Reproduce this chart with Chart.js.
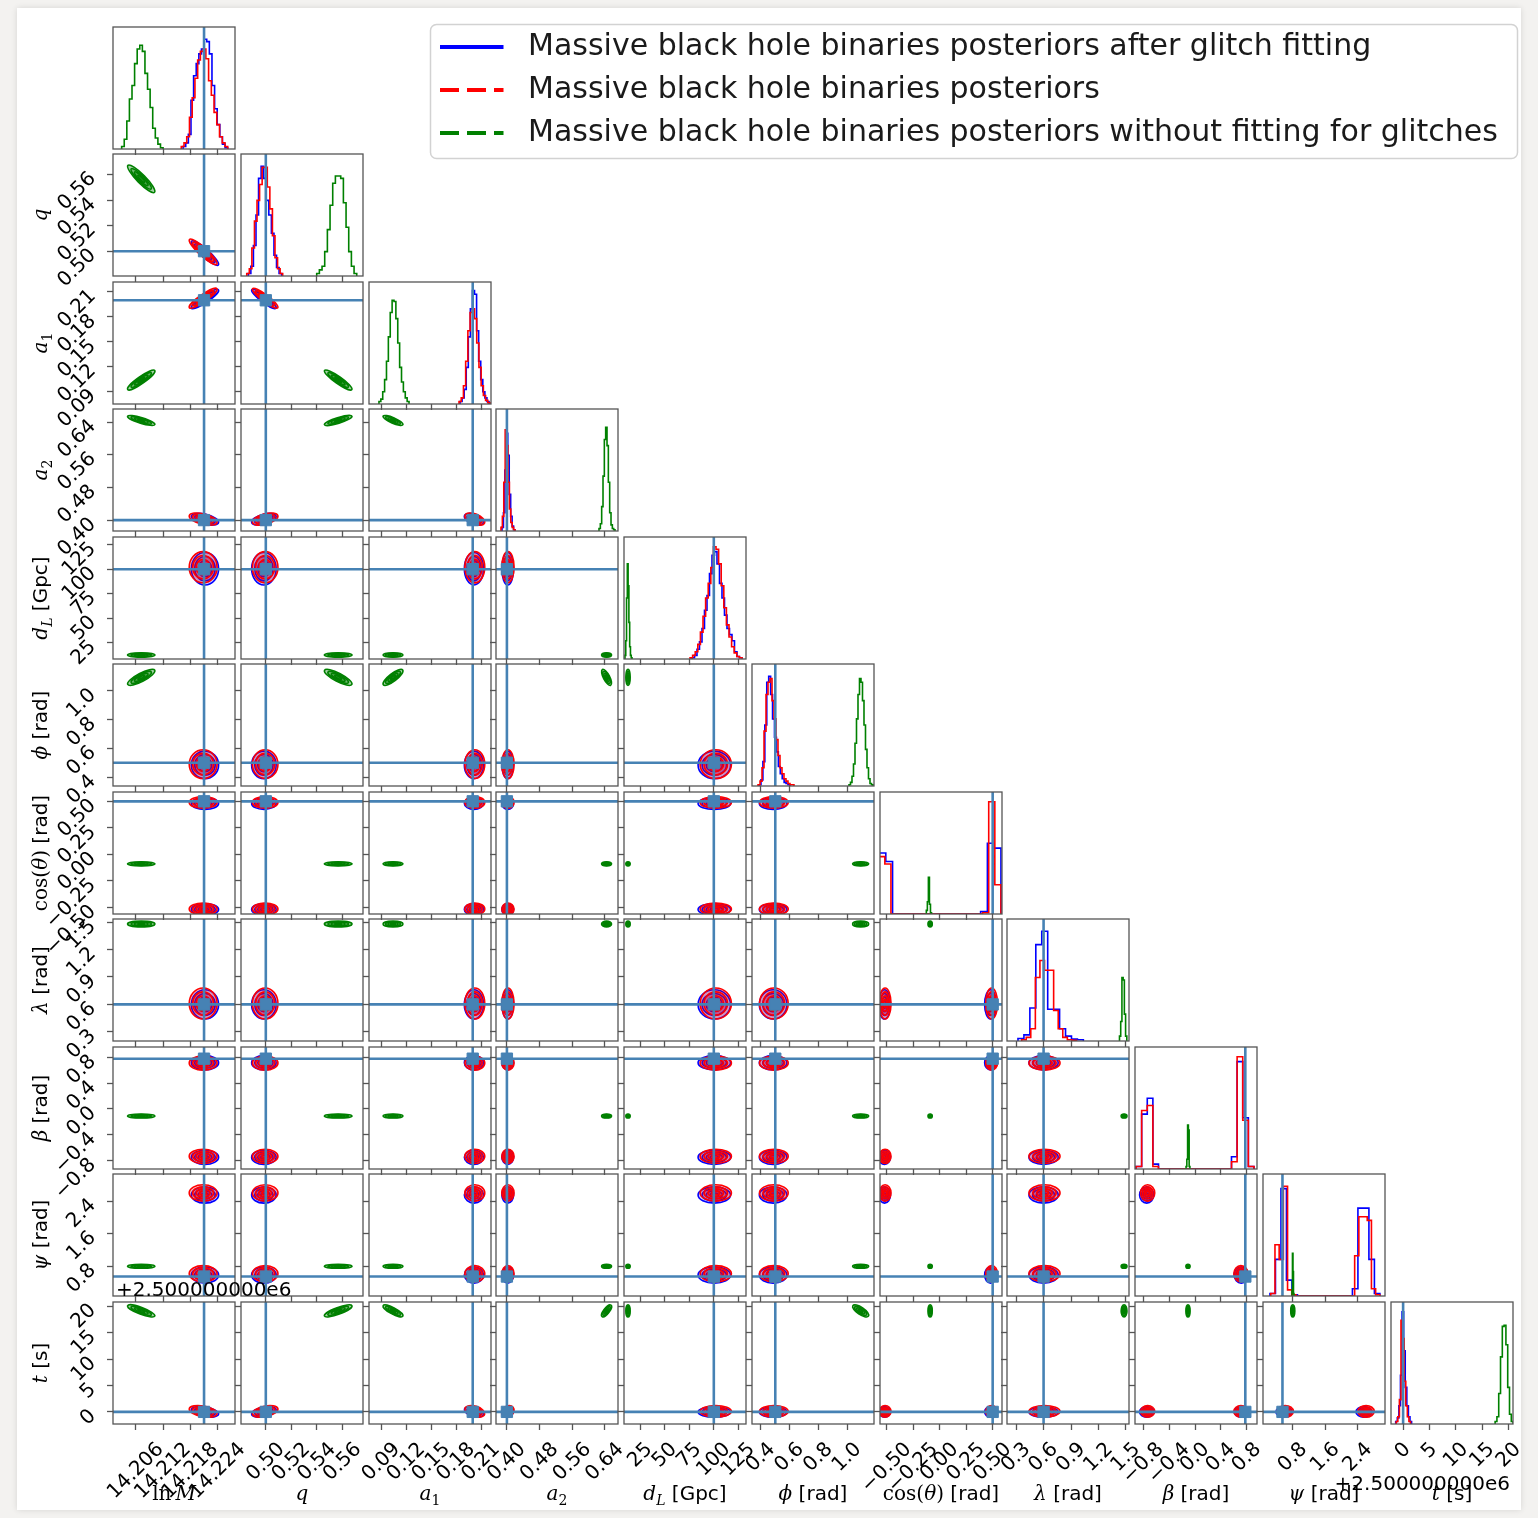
<!DOCTYPE html>
<html>
<head>
<meta charset="utf-8">
<script src="https://cdn.jsdelivr.net/npm/chart.js@4.4.1/dist/chart.umd.min.js"></script>
<style>
  html, body { margin: 0; padding: 0; }
  body { width: 1538px; height: 1518px; background: #f3f2f0; overflow: hidden; position: relative; }
  #figure { position: absolute; left: 17px; top: 8px; width: 1504px; height: 1502px; background: #fff;
            box-shadow: 0 0 6px rgba(0, 0, 0, 0.12); }
  canvas { position: absolute; }
</style>
</head>
<body>
<div id="figure"></div>
<script>
// parameters along both axes of the corner grid
const paramKeys = ['lnM', 'q', 'a1', 'a2', 'dL', 'phi', 'cosTheta', 'lambda', 'beta', 'psi', 't'];
const axisMin = [14.2010, 0.4806, 0.0751, 0.3733, 8.2, 0.338, -0.563, 0.200, -0.931, 0.069, -2.29];
const axisMax = [14.2278, 0.5760, 0.2220, 0.6720, 132.9, 1.187, 0.588, 1.534, 0.959, 3.065, 20.78];
const truths = [14.2210, 0.500, 0.200, 0.400, 100.0, 0.500, 0.500, 0.600, 0.778, 0.547, 0.0];

const tickValues = [
  [14.206, 14.212, 14.218, 14.224], [0.50, 0.52, 0.54, 0.56], [0.09, 0.12, 0.15, 0.18, 0.21],
  [0.40, 0.48, 0.56, 0.64], [25, 50, 75, 100, 125], [0.4, 0.6, 0.8, 1.0],
  [-0.5, -0.25, 0, 0.25, 0.5], [0.3, 0.6, 0.9, 1.2, 1.5], [-0.8, -0.4, 0, 0.4, 0.8],
  [0.8, 1.6, 2.4], [0, 5, 10, 15, 20]
];
const tickLabels = [
  ['14.206', '14.212', '14.218', '14.224'], ['0.50', '0.52', '0.54', '0.56'],
  ['0.09', '0.12', '0.15', '0.18', '0.21'], ['0.40', '0.48', '0.56', '0.64'],
  ['25', '50', '75', '100', '125'], ['0.4', '0.6', '0.8', '1.0'],
  ['\u22120.50', '\u22120.25', '0.00', '0.25', '0.50'], ['0.3', '0.6', '0.9', '1.2', '1.5'],
  ['\u22120.8', '\u22120.4', '0.0', '0.4', '0.8'], ['0.8', '1.6', '2.4'], ['0', '5', '10', '15', '20']
];
const offsetText = '+2.500000000e6';

// axis titles as [text, style] runs
const axisTitles = [
  [['ln', 'rm'], ['\u2009M', 'it']],
  [['q', 'it']],
  [['a', 'it'], ['1', 'sub']],
  [['a', 'it'], ['2', 'sub']],
  [['d', 'it'], ['L', 'itsub'], [' [Gpc]', 'sans']],
  [['\u03d5', 'it'], [' [rad]', 'sans']],
  [['cos(', 'rm'], ['\u03b8', 'it'], [')', 'rm'], [' [rad]', 'sans']],
  [['\u03bb', 'it'], [' [rad]', 'sans']],
  [['\u03b2', 'it'], [' [rad]', 'sans']],
  [['\u03c8', 'it'], [' [rad]', 'sans']],
  [['t', 'it'], [' [s]', 'sans']]
];

const seriesLabels = [
  'Massive black hole binaries posteriors after glitch fitting',
  'Massive black hole binaries posteriors',
  'Massive black hole binaries posteriors without fitting for glitches'
];

// 1-D marginals: outer bin edges and bin heights (fraction of panel height)
const blueHistLo = [14.2164, 0.4863, 0.1847, 0.3880, 77.7, 0.387, -0.700, 0.320, -0.915, 0.240, -1.40];
const blueHistHi = [14.2262, 0.5124, 0.2196, 0.4198, 128.8, 0.602, 0.578, 1.035, 0.912, 2.940, 1.60];
const blueHistCounts = [
  [.02, .05, .12, .40, .60, .70, .78, .82, .90, .88, .78, .52, .33, .20, .10, .04, .01],
  [.02, .08, .25, .50, .80, .90, .80, .62, .50, .35, .17, .07, .02],
  [.02, .05, .12, .30, .55, .78, .93, .90, .60, .35, .20, .10, .05, .02],
  [.03, .15, .50, .80, .62, .30, .12, .04, .01],
  [.01, .03, .08, .14, .25, .40, .52, .70, .85, .88, .78, .62, .50, .36, .25, .20, .15, .06, .02, .01],
  [.01, .05, .20, .50, .85, .90, .75, .55, .40, .28, .16, .10, .06, .03, .02, .01],
  [0, 0, .50, .43, 0, 0, 0, 0, 0, 0, 0, 0, 0, 0, 0, 0, 0, .02, .58, .54],
  [.02, .05, .27, .79, .90, .26, .26, .10, .04, .015, .01],
  [.02, .45, .58, .04, 0, 0, 0, 0, 0, 0, 0, 0, 0, 0, 0, 0, 0, .10, .88, .42, .02],
  [.02, .30, .88, .13, .01, 0, 0, 0, 0, 0, 0, 0, 0, 0, 0, .06, .72, .72, .30, .02],
  [.02, .05, .15, .40, .92, .60, .30, .15, .06, .02]
];

const redHistLo = [14.2160, 0.4851, 0.1835, 0.3855, 75.7, 0.380, -0.575, 0.360, -0.915, 0.260, -1.30];
const redHistHi = [14.2262, 0.5132, 0.2208, 0.4198, 128.8, 0.630, 0.578, 0.960, 0.912, 2.938, 1.40];
const redHistCounts = [
  [.02, .05, .10, .26, .42, .58, .73, .80, .82, .74, .56, .44, .30, .20, .10, .05, .02],
  [.02, .06, .23, .45, .62, .75, .89, .89, .73, .55, .33, .15, .06, .02],
  [.02, .05, .15, .35, .60, .75, .78, .70, .50, .30, .15, .07, .03, .01],
  [.03, .12, .40, .83, .70, .40, .18, .07, .03, .01],
  [.01, .03, .06, .12, .22, .35, .50, .62, .75, .92, .90, .78, .60, .42, .28, .18, .10, .05, .02, .01],
  [.01, .04, .15, .45, .75, .85, .88, .70, .55, .38, .25, .15, .10, .06, .04, .02, .01, .01],
  [.47, .41, 0, 0, 0, 0, 0, 0, 0, 0, 0, 0, 0, 0, 0, 0, 0, .01, .92, .24],
  [.01, .03, .10, .52, .66, .58, .58, .25, .10, .03, .01, .005],
  [.02, .48, .52, .02, 0, 0, 0, 0, 0, 0, 0, 0, 0, 0, 0, 0, 0, .06, .92, .40, .02],
  [.02, .42, .30, .90, .05, .01, 0, 0, 0, 0, 0, 0, 0, 0, 0, 0, 0, 0, 0, 0, .33, .65, .65, .62, .06, .01],
  [.02, .06, .20, .85, .70, .35, .15, .06, .02]
];

const greenHistLo = [14.2029, 0.5398, 0.0871, 0.6255, 9.2, 1.013, -0.126, 1.430, -0.140, 0.780, 17.4];
const greenHistHi = [14.2120, 0.5711, 0.1233, 0.6647, 16.4, 1.180, -0.077, 1.510, -0.080, 0.830, 20.8];
const greenHistCounts = [
  [.02, .08, .23, .41, .52, .70, .82, .85, .80, .62, .49, .34, .17, .09, .04, .01],
  [.02, .05, .08, .20, .38, .58, .76, .82, .82, .80, .60, .40, .20, .08, .02],
  [.02, .04, .10, .20, .35, .55, .75, .85, .84, .70, .50, .30, .18, .10, .05, .02],
  [.02, .06, .20, .45, .75, .85, .70, .40, .15, .05, .02, .01],
  [.03, .15, .50, .78, .60, .30, .10, .03, .01],
  [.01, .03, .08, .18, .35, .55, .75, .88, .85, .70, .50, .30, .15, .06, .02, .01],
  [.03, .10, .30, .08, .01],
  [.04, .16, .52, .50, .22, .04],
  [.02, .08, .36, .32, .02],
  [.05, .35, .20, .02],
  [.02, .06, .25, .55, .80, .81, .65, .30, .08, .02]
];

// 2-D summaries for the contour panels: mode centres, widths, correlation loadings
const blueModeA = [14.2212, 0.4985, 0.2015, 0.4020, 100.5, 0.485, -0.520, 0.600, -0.750, 2.550, 0.00];
const blueModeB = [14.2212, 0.4985, 0.2015, 0.4020, 100.5, 0.485, 0.480, 0.600, 0.715, 0.585, 0.00];
const blueSd = [0.00150, 0.0048, 0.0058, 0.0072, 8.3, 0.048, 0.028, 0.080, 0.055, 0.100, 0.50];
const blueLoad = [0.95, -0.95, 0.95, -0.5, 0, 0, 0, 0, 0, 0, -0.4];

const redModeA = [14.2208, 0.4995, 0.2025, 0.4025, 102.0, 0.490, -0.515, 0.610, -0.735, 2.600, 0.10];
const redModeB = [14.2208, 0.4995, 0.2025, 0.4025, 102.0, 0.490, 0.490, 0.610, 0.710, 0.615, 0.10];
const redSd = [0.00153, 0.0050, 0.0060, 0.0075, 8.0, 0.050, 0.028, 0.085, 0.055, 0.100, 0.55];
const redLoad = [0.95, -0.95, 0.95, -0.5, 0, 0, 0, 0, 0, 0, -0.4];

const greenMean = [14.2072, 0.5566, 0.1040, 0.6440, 12.3, 1.094, -0.090, 1.480, -0.110, 0.800, 19.10];
const greenSd = [0.0015, 0.0054, 0.0060, 0.0061, 1.1, 0.028, 0.010, 0.016, 0.016, 0.025, 0.57];
const greenLoad = [0.95, -0.95, 0.95, -0.85, 0, 0.85, 0, 0, 0, 0, -0.85];

// ---------------------------------------------------------------------------
const N = paramKeys.length;
const PANEL_X0 = 113, PANEL_DX = 127.75, PANEL_Y0 = 27, PANEL_DY = 127.47, PANEL_SIZE = 122;
const TRUTH_COLOR = '#4682b4';
const FRAME_COLOR = '#555555';
const CONTOUR_SIGMAS = [2, 1.5, 1, 0.5];
const TICK_SIZE = 20;
const TICK_FONT = TICK_SIZE + 'px "DejaVu Sans"';
const TITLE_FONTS = {
  rm: '20px "DejaVu Serif"',
  it: 'italic 20px "DejaVu Serif"',
  sub: '14px "DejaVu Serif"',
  itsub: 'italic 14px "DejaVu Serif"',
  sans: '20px "DejaVu Sans"'
};

Chart.defaults.font.family = 'DejaVu Sans';

const series = [
  { color: '#0000ff', fill: 'rgba(0,0,255,0.22)', lo: blueHistLo, hi: blueHistHi, counts: blueHistCounts,
    modes: [blueModeA, blueModeB], sd: blueSd, load: blueLoad },
  { color: '#ff0000', fill: 'rgba(255,0,0,0.26)', lo: redHistLo, hi: redHistHi, counts: redHistCounts,
    modes: [redModeA, redModeB], sd: redSd, load: redLoad },
  { color: '#008000', fill: 'rgba(0,128,0,0.35)', lo: greenHistLo, hi: greenHistHi, counts: greenHistCounts,
    modes: [greenMean], sd: greenSd, load: greenLoad }
];

function histPoints(lo, hi, counts) {
  const w = (hi - lo) / counts.length;
  const pts = [{ x: lo, y: 0 }];
  counts.forEach((c, k) => pts.push({ x: lo + k * w, y: c }));
  pts.push({ x: hi, y: 0 });
  return pts;
}

function blobsFor(s, i, j) {
  const seen = new Set();
  const out = [];
  s.modes.forEach(m => {
    const key = m[j] + ',' + m[i];
    if (seen.has(key)) return;
    seen.add(key);
    out.push({ mx: m[j], my: m[i], sx: s.sd[j], sy: s.sd[i], rho: s.load[i] * s.load[j], color: s.color, fill: s.fill });
  });
  return out;
}

// ellipses at 0.5..2 sigma around each posterior mode, placed with the panel scales
function contourPlugin(blobs) {
  return {
    id: 'contours',
    beforeDatasetsDraw(chart) {
      const { ctx, chartArea: a, scales: { x, y } } = chart;
      ctx.save();
      ctx.beginPath();
      ctx.rect(a.left, a.top, a.width, a.height);
      ctx.clip();
      blobs.forEach(b => {
        const cx = x.getPixelForValue(b.mx), cy = y.getPixelForValue(b.my);
        const sx = Math.abs(x.getPixelForValue(b.mx + b.sx) - cx);
        const sy = Math.abs(y.getPixelForValue(b.my + b.sy) - cy);
        const vxx = sx * sx, vyy = sy * sy, vxy = -b.rho * sx * sy;
        const mid = (vxx + vyy) / 2, disc = Math.sqrt(((vxx - vyy) / 2) ** 2 + vxy * vxy);
        const r1 = Math.sqrt(mid + disc), r2 = Math.sqrt(Math.max(mid - disc, 0.3));
        const ang = 0.5 * Math.atan2(2 * vxy, vxx - vyy);
        ctx.strokeStyle = b.color;
        ctx.fillStyle = b.fill;
        ctx.lineWidth = 1.6;
        CONTOUR_SIGMAS.forEach(k => {
          ctx.beginPath();
          ctx.ellipse(cx, cy, Math.max(k * r1, 0.8), Math.max(k * r2, 0.8), ang, 0, 2 * Math.PI);
          ctx.fill();
          ctx.stroke();
        });
      });
      ctx.restore();
    }
  };
}

const framePlugin = {
  id: 'panelFrame',
  afterDatasetsDraw(chart) {
    const { ctx, chartArea: a } = chart;
    ctx.save();
    ctx.strokeStyle = FRAME_COLOR;
    ctx.lineWidth = 1.3;
    ctx.strokeRect(a.left, a.top, a.width, a.height);
    ctx.restore();
  }
};

function drawTitle(ctx, runs, cx, baseline) {
  let total = 0;
  runs.forEach(([t, f]) => { ctx.font = TITLE_FONTS[f]; total += ctx.measureText(t).width; });
  let x = cx - total / 2;
  runs.forEach(([t, f]) => {
    ctx.font = TITLE_FONTS[f];
    const dy = (f === 'sub' || f === 'itsub') ? 5 : 0;
    ctx.fillText(t, x, baseline + dy);
    x += ctx.measureText(t).width;
  });
}

// rotated tick labels, axis titles and offset texts on the outer panels
function labelPlugin(i, j) {
  return {
    id: 'outerLabels',
    afterDraw(chart) {
      const { ctx, chartArea: a, scales: { x, y } } = chart;
      const c45 = Math.SQRT1_2;
      const lineH = TICK_SIZE * 1.16;
      ctx.save();
      ctx.fillStyle = '#000';
      if (i === N - 1) {
        ctx.textAlign = 'center';
        ctx.textBaseline = 'middle';
        tickValues[j].forEach((v, k) => {
          const text = tickLabels[j][k];
          ctx.font = TICK_FONT;
          const half = (ctx.measureText(text).width + lineH) * c45 / 2;
          ctx.save();
          ctx.translate(x.getPixelForValue(v), a.bottom + 14 + half);
          ctx.rotate(-Math.PI / 4);
          ctx.fillText(text, 0, 0);
          ctx.restore();
        });
        ctx.textAlign = 'left';
        ctx.textBaseline = 'alphabetic';
        drawTitle(ctx, axisTitles[j], (a.left + a.right) / 2, a.bottom + 76);
        if (j === N - 1) {
          ctx.font = '20px "DejaVu Sans"';
          ctx.textAlign = 'right';
          ctx.fillText(offsetText, a.right - 3, a.bottom + 66);
        }
      }
      if (j === 0 && i > 0) {
        ctx.textAlign = 'center';
        ctx.textBaseline = 'middle';
        tickValues[i].forEach((v, k) => {
          const text = tickLabels[i][k];
          ctx.font = TICK_FONT;
          const half = (ctx.measureText(text).width + lineH) * c45 / 2;
          ctx.save();
          ctx.translate(a.left - 12 - half, y.getPixelForValue(v) - 7 + half);
          ctx.rotate(-Math.PI / 4);
          ctx.fillText(text, 0, 0);
          ctx.restore();
        });
        ctx.save();
        ctx.translate(a.left - 73, (a.top + a.bottom) / 2);
        ctx.rotate(-Math.PI / 2);
        ctx.textAlign = 'left';
        ctx.textBaseline = 'alphabetic';
        drawTitle(ctx, axisTitles[i], 0, 7);
        ctx.restore();
        if (i === N - 1) {
          ctx.font = '20px "DejaVu Sans"';
          ctx.textAlign = 'left';
          ctx.textBaseline = 'alphabetic';
          ctx.fillText(offsetText, a.left + 3, a.top - 6);
        }
      }
      ctx.restore();
    }
  };
}

function axisOptions(min, max, ticks, size, showTicks) {
  return {
    type: 'linear',
    min, max,
    bounds: 'data',
    afterBuildTicks: scale => { scale.ticks = ticks.map(v => ({ value: v })); },
    afterFit: scale => { if (scale.isHorizontal()) scale.height = size; else scale.width = size; },
    ticks: { display: false, autoSkip: false },
    border: { display: false },
    grid: { drawOnChartArea: false, drawTicks: showTicks, tickLength: 6, tickColor: FRAME_COLOR, tickWidth: 1.3 }
  };
}

function lineSet(points, color, width) {
  return { data: points, showLine: true, borderColor: color, borderWidth: width, pointRadius: 0, fill: false };
}

function makePanel(i, j) {
  const last = N - 1;
  // margins around each panel leave room for its outer labels
  let L = 10, R = 25, B = 10;
  const T = 30;
  if (j === 0) { L = 105; B = 50; }
  if (i === last) { B = 100; L = Math.max(L, 40); R = 40; }
  if (i === last && j === last) L = 90;
  if (i === last && j === 0) R = 90;
  const left = Math.round(PANEL_X0 + PANEL_DX * j);
  const top = Math.round(PANEL_Y0 + PANEL_DY * i);
  const canvas = document.createElement('canvas');
  canvas.width = L + PANEL_SIZE + R;
  canvas.height = T + PANEL_SIZE + B;
  canvas.style.left = (left - L) + 'px';
  canvas.style.top = (top - T) + 'px';
  document.body.appendChild(canvas);

  const diag = i === j;
  const datasets = [];
  const plugins = [framePlugin, labelPlugin(i, j)];
  let yAxis;
  if (diag) {
    datasets.push(lineSet([{ x: truths[j], y: 0 }, { x: truths[j], y: 1 }], TRUTH_COLOR, 2.6));
    [2, 1, 0].forEach(s => {
      const ser = series[s];
      const ds = lineSet(histPoints(ser.lo[j], ser.hi[j], ser.counts[j]), ser.color, 1.6);
      ds.stepped = 'before';
      datasets.push(ds);
    });
    yAxis = axisOptions(0, 1, [], L, false);
  } else {
    datasets.push({ data: [{ x: truths[j], y: truths[i] }], pointStyle: 'rect', pointRadius: 8,
                    backgroundColor: TRUTH_COLOR, borderColor: TRUTH_COLOR, borderWidth: 1 });
    datasets.push(lineSet([{ x: truths[j], y: axisMin[i] }, { x: truths[j], y: axisMax[i] }], TRUTH_COLOR, 2.6));
    datasets.push(lineSet([{ x: axisMin[j], y: truths[i] }, { x: axisMax[j], y: truths[i] }], TRUTH_COLOR, 2.6));
    const blobs = [];
    series.forEach(s => blobs.push(...blobsFor(s, i, j)));
    plugins.push(contourPlugin(blobs));
    yAxis = axisOptions(axisMin[i], axisMax[i], tickValues[i], L, true);
  }

  new Chart(canvas, {
    type: 'scatter',
    data: { datasets },
    options: {
      responsive: false,
      animation: false,
      events: [],
      devicePixelRatio: 1,
      layout: { padding: { top: T, right: R, left: 0, bottom: 0 } },
      scales: {
        x: { ...axisOptions(axisMin[j], axisMax[j], tickValues[j], B, true), position: 'bottom' },
        y: { ...yAxis, position: 'left' }
      },
      plugins: { legend: { display: false }, tooltip: { enabled: false } }
    },
    plugins
  });
}

for (let i = 0; i < N; i++) {
  for (let j = 0; j <= i; j++) makePanel(i, j);
}

// legend box in the empty upper-right triangle
const legendFrame = {
  id: 'legendFrame',
  beforeDraw(chart) {
    const ctx = chart.ctx;
    ctx.save();
    ctx.beginPath();
    ctx.roundRect(3.5, 5.5, 1087, 134, 6);
    ctx.fillStyle = 'rgba(255,255,255,0.85)';
    ctx.fill();
    ctx.strokeStyle = '#d2d2d2';
    ctx.lineWidth = 1.5;
    ctx.stroke();
    ctx.restore();
  }
};
const legendCanvas = document.createElement('canvas');
legendCanvas.width = 1110;
legendCanvas.height = 320;
legendCanvas.style.left = '427px';
legendCanvas.style.top = '19px';
document.body.appendChild(legendCanvas);
const legendDash = [[], [19, 8], [19, 8]];
new Chart(legendCanvas, {
  type: 'line',
  data: {
    datasets: seriesLabels.map((label, k) => ({
      label: ' ' + label, data: [], borderColor: series[k].color, backgroundColor: series[k].color,
      borderWidth: 4, borderDash: legendDash[k]
    }))
  },
  options: {
    responsive: false,
    animation: false,
    events: [],
    devicePixelRatio: 1,
    scales: { x: { display: false }, y: { display: false } },
    plugins: {
      tooltip: { enabled: false },
      legend: {
        display: true, position: 'top', align: 'start',
        labels: { boxWidth: 63.5, boxHeight: 0, padding: 13,
                  color: '#1a1a1a', font: { size: 30, family: 'DejaVu Sans' } }
      }
    }
  },
  plugins: [legendFrame]
});
</script>
</body>
</html>
